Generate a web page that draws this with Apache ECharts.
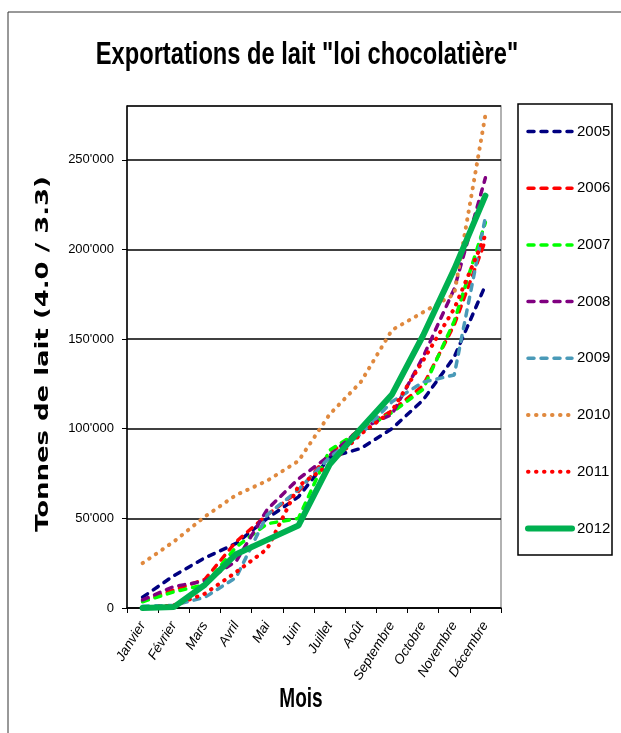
<!DOCTYPE html>
<html>
<head>
<meta charset="utf-8">
<script src="https://cdn.jsdelivr.net/npm/echarts@6/dist/echarts.min.js"></script>
<style>
html,body{margin:0;padding:0;background:#fff;}
#chart{width:621px;height:733px;}
</style>
</head>
<body>
<div id="chart"></div>
<script>
var months = ['Janvier','Février','Mars','Avril','Mai','Juin','Juillet','Août','Septembre','Octobre','Novembre','Décembre'];
var years = ['2005','2006','2007','2008','2009','2010','2011','2012'];
var titleText = 'Exportations de lait "loi chocolatière"';
var yName = 'Tonnes de lait (4.0 / 3.3)';
var xName = 'Mois';

var s2005 = [6000, 18000, 28000, 36000, 50000, 62000, 84000, 89000, 100000, 116000, 140000, 180000];
var s2006 = [4000, 10000, 16000, 37000, 52000, 65000, 86000, 100000, 110000, 124000, 158000, 205000];
var s2007 = [3500, 9000, 13000, 34000, 47000, 50000, 88000, 99000, 109000, 122000, 160000, 215000];
var s2008 = [4500, 12000, 15000, 26000, 55000, 72000, 85000, 100000, 108000, 140000, 178000, 240000];
var s2009 = [1000, 1500, 6000, 17000, 52000, 66000, 84000, 97000, 115000, 126000, 130000, 218000];
var s2010 = [25000, 37000, 51000, 63000, 71000, 82000, 108000, 126000, 155000, 165000, 175000, 275000];
var s2011 = [0, 1500, 8000, 20000, 33000, 68000, 80000, 97000, 110000, 138000, 167000, 208000];
var s2012 = [0, 500, 13000, 30000, 38000, 46000, 80000, 100000, 119000, 152000, 189000, 230000];

var seriesData = [s2005, s2006, s2007, s2008, s2009, s2010, s2011, s2012];
var colors = ['#000080', '#FF0000', '#00FF00', '#800080', '#4A9AB8', '#E0893E', '#FF0000', '#00B050'];
var dash = [6, 7];
var dots = [0.5, 7.5];
var styles = [
  {type: dash, width: 3.5, cap: 'round'},
  {type: dash, width: 3.5, cap: 'round'},
  {type: dash, width: 3.5, cap: 'round'},
  {type: dash, width: 3.5, cap: 'round'},
  {type: dash, width: 3.5, cap: 'round'},
  {type: dots, width: 4, cap: 'round'},
  {type: dots, width: 4, cap: 'round'},
  {type: 'solid', width: 6, cap: 'round'}
];

var sans = "'Liberation Sans', Arial, sans-serif";

function fmt(v) {
  var s = String(Math.round(v));
  return s.replace(/\B(?=(\d{3})+(?!\d))/g, "'");
}

var series = years.map(function (y, i) {
  return {
    name: y,
    type: 'line',
    data: seriesData[i],
    symbol: 'none',
    smooth: false,
    color: colors[i],
    lineStyle: Object.assign({color: colors[i]}, styles[i])
  };
});

var chart = echarts.init(document.getElementById('chart'));
chart.setOption({
  animation: false,
  backgroundColor: '#fff',
  graphic: [
    {type: 'rect', shape: {x: 8, y: 12, width: 700, height: 800}, style: {fill: 'none', stroke: '#333', lineWidth: 1}, silent: true},
    {type: 'rect', shape: {x: 518, y: 104, width: 94, height: 451}, style: {fill: '#fff', stroke: '#000', lineWidth: 1.5}, silent: true, z: 1},
    {type: 'text', x: 307, y: 55, scaleX: 0.74, silent: true,
     style: {text: titleText, font: "bold 32px 'Liberation Sans', Arial, sans-serif", fill: '#000', align: 'center', verticalAlign: 'middle', textAlign: 'center', textVerticalAlign: 'middle'}},
    {type: 'text', x: 301, y: 699, scaleX: 0.68, silent: true,
     style: {text: xName, font: "bold 28px 'Liberation Sans', Arial, sans-serif", fill: '#000', align: 'center', verticalAlign: 'middle', textAlign: 'center', textVerticalAlign: 'middle'}},
    {type: 'text', x: 43, y: 354, rotation: Math.PI / 2, scaleX: 1.44, silent: true,
     style: {text: yName, font: "bold 18px 'DejaVu Sans', sans-serif", fill: '#000', align: 'center', verticalAlign: 'middle', textAlign: 'center', textVerticalAlign: 'middle'}}
  ],
  legend: {
    orient: 'vertical',
    left: 520, top: 119,
    itemWidth: 44, itemHeight: 14, itemGap: 41.7,
    data: years,
    itemStyle: {opacity: 0},
    lineStyle: {width: 'inherit'},
    textStyle: {fontFamily: sans, fontSize: 15, color: '#000'},
    z: 5
  },
  grid: {left: 127, right: 120, top: 106, bottom: 125, show: true, borderColor: '#999', borderWidth: 1.5, containLabel: false},
  xAxis: {
    type: 'category',
    data: months,
    boundaryGap: true,
    axisLine: {lineStyle: {color: '#000', width: 1.5}},
    axisTick: {show: true, alignWithLabel: false, length: 5, lineStyle: {color: '#000', width: 1}},
    axisLabel: {rotate: 58, interval: 0, margin: 15, fontFamily: sans, fontStyle: 'italic', fontSize: 13.5, color: '#000'},
    splitLine: {show: false}
  },
  yAxis: {
    type: 'value',
    min: 0, max: 280000, interval: 50000,
    axisLine: {show: true, lineStyle: {color: '#000', width: 1.5}},
    axisTick: {show: true, length: 5, lineStyle: {color: '#000', width: 1}},
    axisLabel: {margin: 13, showMaxLabel: false, fontFamily: sans, fontSize: 13, color: '#000', formatter: function (v) { return fmt(v); }},
    splitLine: {show: true, lineStyle: {color: '#000', width: 1.5}}
  },
  series: series
});
</script>
</body>
</html>
